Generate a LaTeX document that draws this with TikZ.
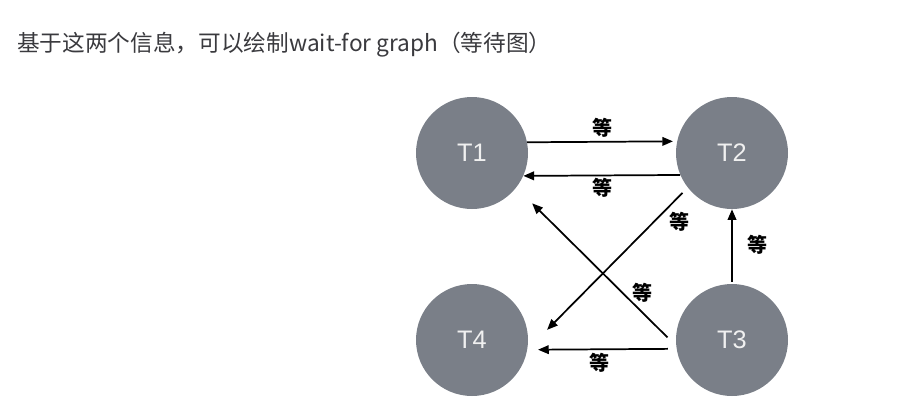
\documentclass[tikz,border=0pt]{standalone}
\usepackage{fontspec}
\setmainfont{Liberation Sans}
\newfontfamily\cjk{Noto Sans CJK SC}
\usetikzlibrary{arrows.meta}
\definecolor{nodegray}{RGB}{122,127,136}
\definecolor{titlegray}{RGB}{58,58,62}

\begin{document}
\begin{tikzpicture}[x=0.75pt,y=-0.75pt,
  txn/.style={circle,fill=nodegray,minimum size=84pt,inner sep=0pt,text=white!94!black,font=\fontsize{19}{19}\selectfont},
  wait/.style={line width=1.3pt,-{Triangle[length=8pt,width=6.5pt]}},
  lbl/.style={inner sep=0pt,font=\cjk\bfseries\fontsize{15}{15}\selectfont}]
\useasboundingbox (0,0) rectangle (911,411);

% Title
\node[anchor=west,inner sep=0pt,text=titlegray,font=\cjk\fontsize{17}{17}\selectfont] (title) at (17,45) {基于这两个信息，可以绘制wait-for graph（等待图）};

% Transactions
\node[txn] (t1) at (472,153) {T1};
\node[txn] (t2) at (732,153) {T2};
\node[txn] (t4) at (472,340) {T4};
\node[txn] (t3) at (732,340) {T3};

% Wait-for edges
\draw[wait,shorten >=3pt] (t1.11.3) -- (t2.168.7);
\draw[wait] (t2.203.1) -- (t1.336.9);
\draw[wait,shorten <=5.5pt,shorten >=21pt] (t2.218.5) -- (t4.350);
\draw[wait,shorten <=9pt,shorten >=16.7pt] (t3.186.6) -- (t1.322.3);
\draw[wait,shorten <=1.5pt] (t3.north) -- (t2.south);
\draw[wait,shorten <=6.5pt,shorten >=8pt] (t3.189.2) -- (t4.350.8);

% Labels
\node[lbl] (l12) at (602,128) {等};
\node[lbl] (l21) at (602,188) {等};
\node[lbl] (l24) at (679,222) {等};
\node[lbl] (l31) at (642,293) {等};
\node[lbl] (l32) at (757,245) {等};
\node[lbl] (l34) at (599,363) {等};

\end{tikzpicture}
\end{document}
